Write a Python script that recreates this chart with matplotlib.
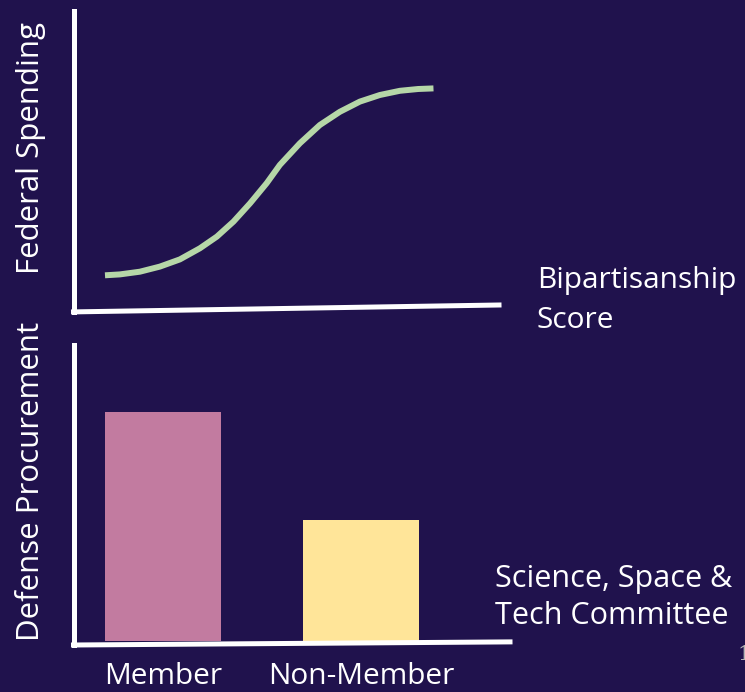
import matplotlib
matplotlib.use("Agg")
import matplotlib.pyplot as plt

plt.rcParams['font.family'] = ['Open Sans', 'DejaVu Sans']

# curve: federal spending vs bipartisanship score
score = [0.74, 1.09, 1.56, 2.03, 2.50, 2.97, 3.37, 3.76, 4.15, 4.54, 4.85,
         5.32, 5.79, 6.26, 6.73, 7.2, 7.67, 8.10, 8.46]
spending = [1.19, 1.22, 1.31, 1.48, 1.72, 2.09, 2.48, 2.98, 3.59, 4.26, 4.87,
            5.59, 6.2, 6.64, 6.98, 7.2, 7.34, 7.4, 7.42]

# bars: defense procurement by committee membership
groups = ["Member", "Non-Member"]
procurement = [7.74, 4.09]

bg = "#20124d"
W, H = 745, 692

fig = plt.figure(figsize=(W / 100, H / 100), dpi=100, facecolor=bg)


def box(left, right, top, bottom):
    # pixel box -> figure fraction
    return [left / W, 1 - bottom / H, (right - left) / W, (bottom - top) / H]


# top panel
ax1 = fig.add_axes(box(73.5, 499, 11, 311))
ax1.set_facecolor(bg)
ax1.plot(score, spending, color="#b6d7a8", lw=4.3, solid_capstyle="butt", solid_joinstyle="round")
ax1.set_xlim(0, 10)
ax1.set_ylim(0, 10)
ax1.axis("off")
# hand drawn axes
ax1.plot([0, 0], [1, -0.003], transform=ax1.transAxes, color="white", lw=3.6, clip_on=False)
ax1.plot([0, 1], [-0.003, 0.02], transform=ax1.transAxes, color="white", lw=3.6, clip_on=False)

# bottom panel
ax2 = fig.add_axes(box(73.5, 510, 345, 641))
ax2.set_facecolor(bg)
ax2.bar(range(len(groups)), procurement, width=0.586, color=["#c27ba0", "#ffe599"])
ax2.set_xlim(-0.452, 1.753)
ax2.set_ylim(0, 10)
for s in ax2.spines.values():
    s.set_visible(False)
ax2.set_yticks([])
ax2.set_xticks(range(len(groups)))
ax2.set_xticklabels(groups, fontsize=21.5, color="white")
ax2.tick_params(axis="x", length=0, pad=15)
ax2.plot([0, 0], [1, -0.0135], transform=ax2.transAxes, color="white", lw=3.6, clip_on=False)
ax2.plot([0, 1], [-0.0135, -0.003], transform=ax2.transAxes, color="white", lw=3.6, clip_on=False)

# labels
fig.text(31.5 / W, 1 - 148.5 / H, "Federal Spending", rotation=90, fontsize=22.5,
         color="white", ha="center", va="center")
fig.text(31.5 / W, 1 - 481 / H, "Defense Procurement", rotation=90, fontsize=22.5,
         color="white", ha="center", va="center")
fig.text(537 / W, 1 - 288 / H, "Bipartisanship", fontsize=21.5, color="white", va="baseline")
fig.text(537 / W, 1 - 328 / H, "Score", fontsize=21.5, color="white", va="baseline")
fig.text(495 / W, 1 - 587 / H, "Science, Space &", fontsize=22, color="white", va="baseline")
fig.text(495 / W, 1 - 624 / H, "Tech Committee", fontsize=22, color="white", va="baseline")

# slide number, cut off at the edge
fig.text(737 / W, 1 - 660 / H, "1", fontsize=15, color="#b4b4b4",
         family="DejaVu Serif", va="baseline")

fig.savefig("out.png", dpi=100, facecolor=bg)
